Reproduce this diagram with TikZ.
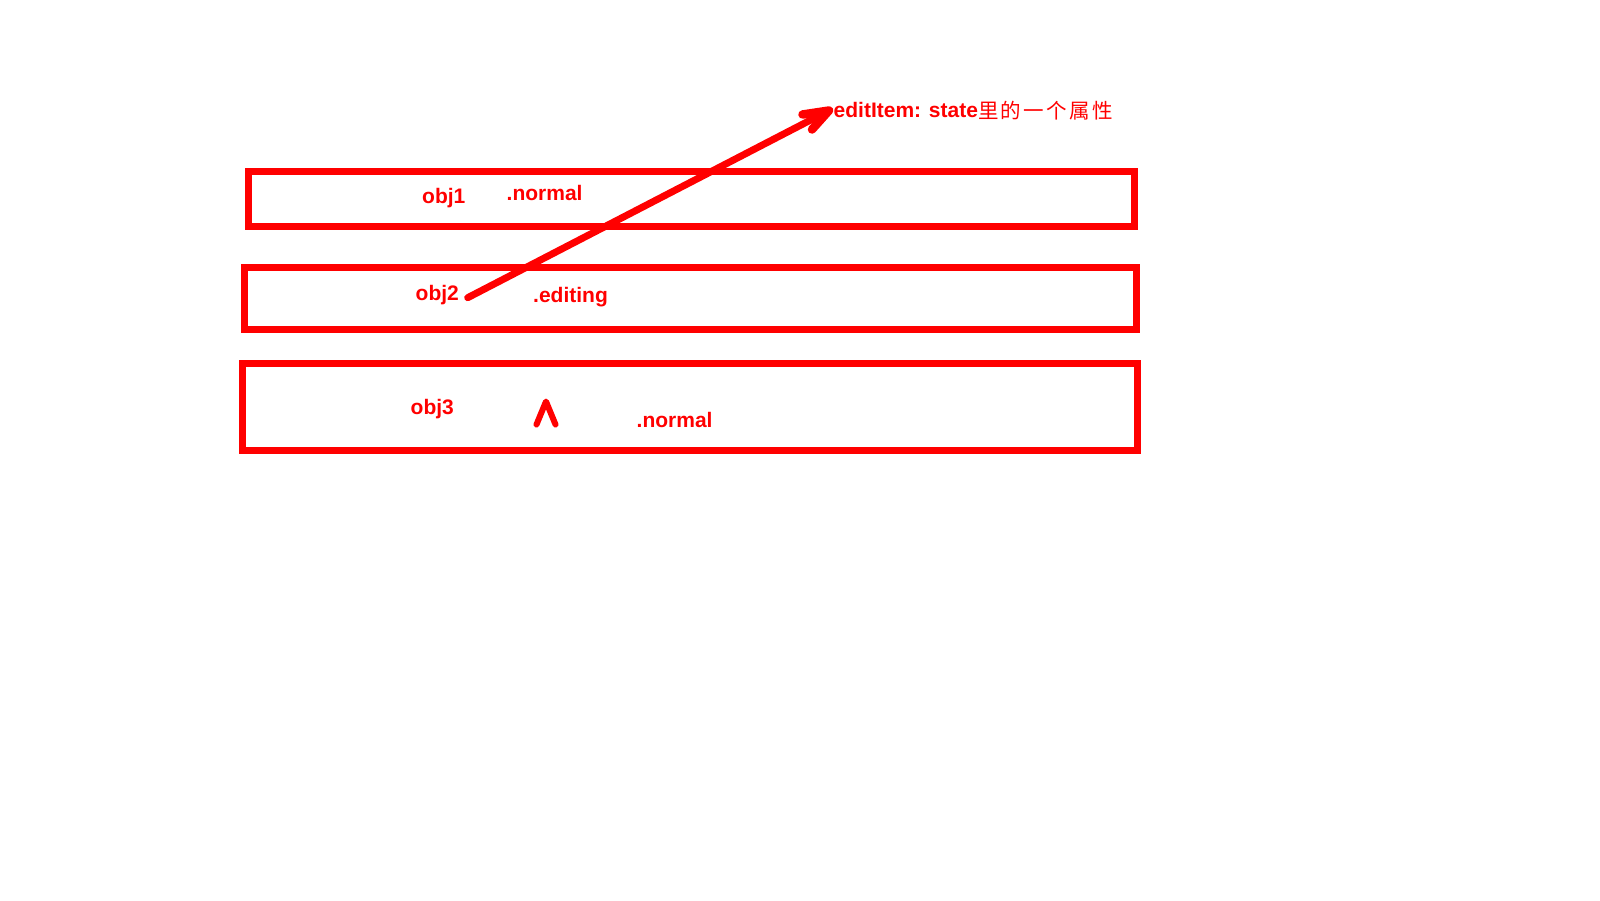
\documentclass[tikz,border=0pt]{standalone}
\usepackage{fontspec}
\setmainfont{Liberation Sans}
\newfontfamily\cjk{Noto Sans CJK SC}
\definecolor{pred}{RGB}{255,0,0}
\begin{document}
\begin{tikzpicture}[x=1pt,y=-1pt,
  box/.style={draw=pred, line width=7pt, rectangle, inner sep=0pt, outer sep=0pt},
  lbl/.style={text=pred, font=\fontsize{21}{24}\selectfont\bfseries, inner sep=0pt, anchor=base west},
  pen/.style={draw=pred, line width=7pt, line cap=round, line join=round}]
\useasboundingbox[fill=white] (0,0) rectangle (1600,900);
% boxes
\node[box, minimum width=885.8pt, minimum height=54.5pt] (b1) at (691.4,198.75) {};
\node[box, minimum width=892.2pt, minimum height=61.5pt] (b2) at (690.6,298.25) {};
\node[box, minimum width=895.4pt, minimum height=87pt] (b3) at (690,406.8) {};
% texts
\node[lbl] (o1) at (422,203.5) {obj1};
\node[lbl] (n1) at (506.5,200) {.normal};
\node[lbl] (o2) at (415.5,300.5) {obj2};
\node[lbl] (e2) at (533,302.5) {.editing};
\node[lbl] (o3) at (410.5,414.5) {obj3};
\node[lbl] (n3) at (636.5,427) {.normal};
\node[lbl] (top) at (833.5,117.5) {editItem: state{\cjk\mdseries\fontsize{20.5}{24}\selectfont\raisebox{-1pt}{里\hspace{2.3pt}的\hspace{2.3pt}一\hspace{2.3pt}个\hspace{2.3pt}属\hspace{2.3pt}性}}};
% arrow
\coordinate (s) at (467.7,297.7);
\coordinate (tip) at (829,110.5);
\coordinate (bA) at (802.5,114.5);
\coordinate (bB) at (812,129.5);
\draw[pen] (s) -- (tip);
\draw[pen, line width=8.5pt] (bA) -- (tip) -- (bB);
% caret
\coordinate (c1) at (536.5,424.5);
\coordinate (c2) at (546,401.5);
\coordinate (c3) at (555.5,424.5);
\draw[pen, line width=6pt] (c1) -- (c2) -- (c3);
\end{tikzpicture}
\end{document}
